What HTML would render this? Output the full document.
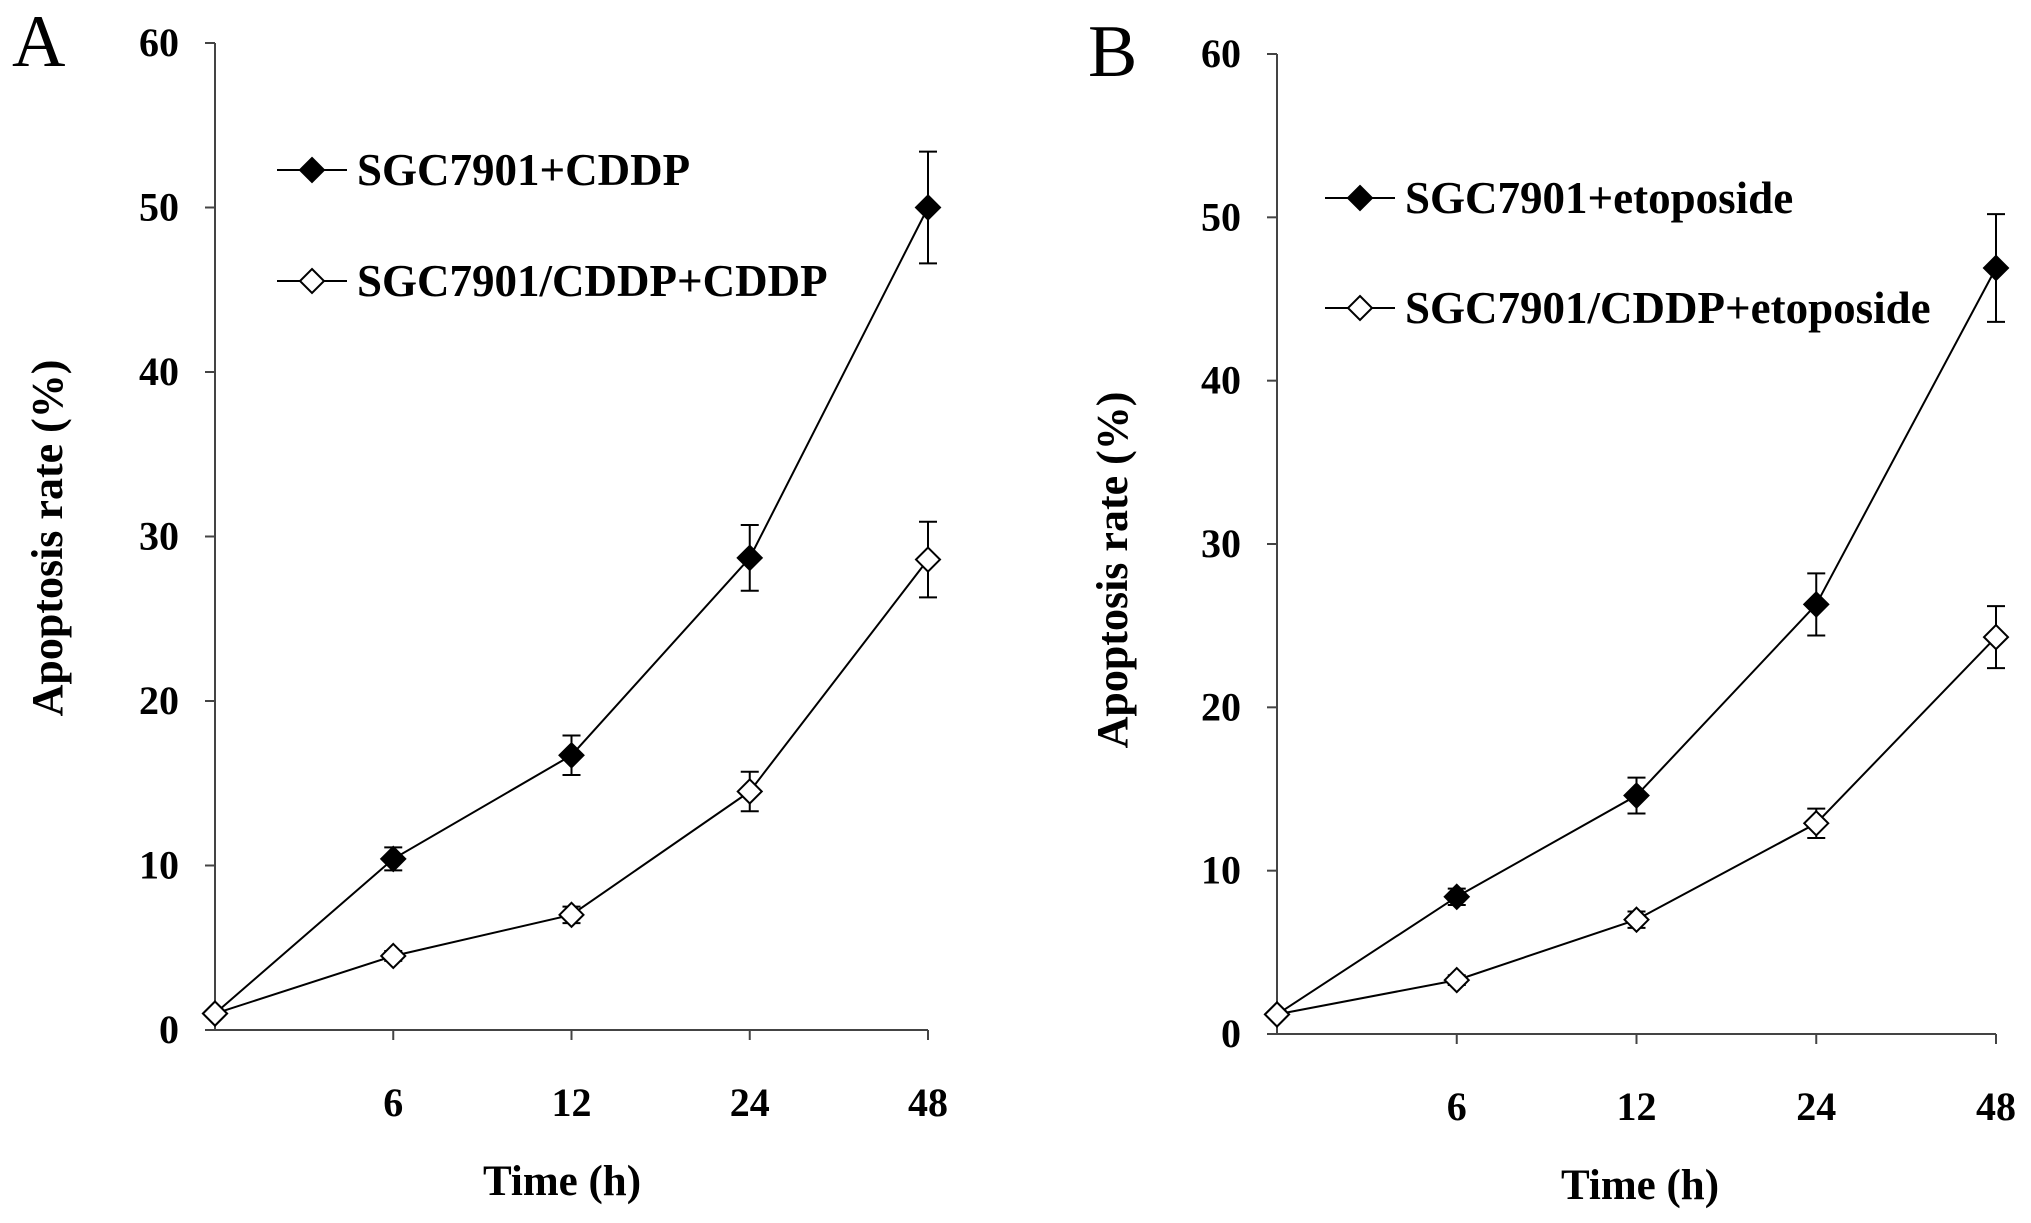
<!DOCTYPE html>
<html><head><meta charset="utf-8"><style>
html,body{margin:0;padding:0;background:#fff}
svg{display:block;font-family:"Liberation Serif",serif}
.t{font-weight:bold;font-size:40px}
</style></head><body>
<svg id="chart" width="2031" height="1223" viewBox="0 0 2031 1223" xmlns="http://www.w3.org/2000/svg"></svg>
<script>
const categories = ["", "6", "12", "24", "48"];
const yTicks = [0, 10, 20, 30, 40, 50, 60];
const aSens = [1.0, 10.4, 16.7, 28.7, 50.0];
const aSensErr = [0, 0.7, 1.2, 2.0, 3.4];
const aRes = [1.0, 4.5, 7.0, 14.5, 28.6];
const aResErr = [0, 0.3, 0.5, 1.2, 2.3];
const bSens = [1.2, 8.4, 14.6, 26.3, 46.9];
const bSensErr = [0, 0.5, 1.1, 1.9, 3.3];
const bRes = [1.2, 3.3, 7.0, 12.9, 24.3];
const bResErr = [0, 0.3, 0.5, 0.9, 1.9];
const legendA = ["SGC7901+CDDP", "SGC7901/CDDP+CDDP"];
const legendB = ["SGC7901+etoposide", "SGC7901/CDDP+etoposide"];

const svg = document.getElementById('chart');
const NS = 'http://www.w3.org/2000/svg';
function mk(tag, attrs, parent, text){
  const e = document.createElementNS(NS, tag);
  for (const k in attrs) e.setAttribute(k, attrs[k]);
  if (text !== undefined) e.textContent = text;
  (parent || svg).appendChild(e);
  return e;
}
function diamond(cx, cy, filled, g){
  const s = 12;
  return mk('polygon', {points:`${cx},${cy-s} ${cx+s},${cy} ${cx},${cy+s} ${cx-s},${cy}`, fill: filled?'#000':'#fff', stroke:'#000', 'stroke-width':2}, g);
}
function panel(cfg){
  const g = mk('g', {});
  
  
  const x = i => cfg.x0 + (cfg.x1 - cfg.x0) * i / (categories.length - 1);
  const y = v => cfg.y0 - (cfg.y0 - cfg.y60) * v / 60;
  const lab = mk('text', {x: cfg.labX, y: cfg.labY, 'font-size': 74}, g, cfg.letter);
  
  
  const ax = mk('path', {d:`M${cfg.x0},${y(60)} V${cfg.y0} H${cfg.x1}`, fill:'none', stroke:'#444', 'stroke-width':2}, g);
  
  
  yTicks.forEach(v => {
    mk('line', {x1: cfg.x0-10, x2: cfg.x0, y1: y(v), y2: y(v), stroke:'#444', 'stroke-width':2}, g);
    const t = mk('text', {x: cfg.x0-36, y: y(v)+13, 'text-anchor':'end', class:'t'}, g, String(v));
    
    
  });
  categories.forEach((c, i) => {
    if (i === 0) return;
    mk('line', {x1: x(i), x2: x(i), y1: cfg.y0, y2: cfg.y0+10, stroke:'#444', 'stroke-width':2}, g);
    const t = mk('text', {x: x(i), y: cfg.y0+86, 'text-anchor':'middle', class:'t'}, g, c);
    
    
  });
  const yt = mk('text', {x: 0, y: 0, 'text-anchor':'middle', 'font-size':44, 'font-weight':'bold', transform:`translate(${cfg.ytX},${cfg.ytY}) rotate(-90)`}, g, 'Apoptosis rate (%)');
  
  
  const xt = mk('text', {x: cfg.xtX, y: cfg.xtY, 'text-anchor':'middle', 'font-size':43, 'font-weight':'bold'}, g, 'Time (h)');
  
  
  cfg.series.forEach((s, si) => {
    const sg = mk('g', {}, g);
    
    
    mk('polyline', {points: s.v.map((v,i)=>`${x(i)},${y(v)}`).join(' '), fill:'none', stroke:'#000', 'stroke-width':2}, sg);
    s.v.forEach((v,i) => {
      if (s.e[i] > 0) {
        const eb = mk('path', {d:`M${x(i)},${y(v+s.e[i])} V${y(v-s.e[i])} M${x(i)-9},${y(v+s.e[i])} H${x(i)+9} M${x(i)-9},${y(v-s.e[i])} H${x(i)+9}`, stroke:'#000', 'stroke-width':2, fill:'none'}, sg);
        
        
      }
      const p = diamond(x(i), y(v), si===0, sg);
      
      
    });
    const ly = cfg.legY[si];
    const lg = mk('g', {}, g);
    
    
    mk('line', {x1: cfg.legX, x2: cfg.legX+70, y1: ly, y2: ly, stroke:'#000', 'stroke-width':2}, lg);
    diamond(cfg.legX+35, ly, si===0, lg);
    mk('text', {x: cfg.legX+80, y: ly+15, 'font-size':45, 'font-weight':'bold'}, lg, cfg.legend[si]);
  });
}
panel({name:'panel-a', letter:'A', labX:12, labY:66, x0:215, x1:928, y0:1030, y60:43,
  ytX:62, ytY:538, xtX:562, xtY:1195, legX:277, legY:[170,281], legend:legendA,
  series:[{v:aSens,e:aSensErr},{v:aRes,e:aResErr}]});
panel({name:'panel-b', letter:'B', labX:1088, labY:76, x0:1277, x1:1996, y0:1034, y60:54,
  ytX:1127, ytY:570, xtX:1640, xtY:1199, legX:1325, legY:[198,308], legend:legendB,
  series:[{v:bSens,e:bSensErr},{v:bRes,e:bResErr}]});
</script>
</body></html>
